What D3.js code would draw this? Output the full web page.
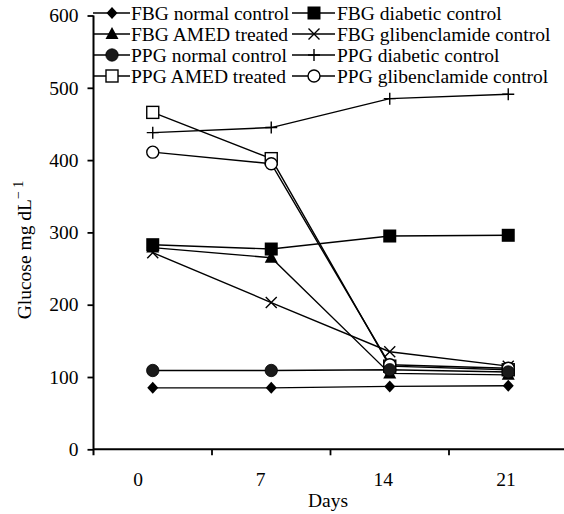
<!DOCTYPE html>
<html>
<head>
<meta charset="utf-8">
<script src="https://cdn.jsdelivr.net/npm/d3@7"></script>
<style>
  body { margin: 0; background: #fff; }
  svg text { font-family: "Liberation Serif", "Times New Roman", serif; fill: #000; }
</style>
</head>
<body>
<div id="chart"></div>
<script>
const days = ["0", "7", "14", "21"];
const yTicks = [0, 100, 200, 300, 400, 500, 600];

const fbgNormal = [85, 85, 87, 88];
const fbgDiabetic = [283, 277, 295, 296];
const fbgAmed = [279, 265, 105, 103];
const fbgGlib = [272, 203, 135, 115];
const ppgNormal = [109, 109, 110, 107];
const ppgDiabetic = [438, 445, 485, 491];
const ppgAmed = [466, 402, 115, 110];
const ppgGlib = [411, 395, 117, 112];

const seriesNames = [
  "FBG normal control", "FBG diabetic control",
  "FBG AMED treated", "FBG glibenclamide control",
  "PPG normal control", "PPG diabetic control",
  "PPG AMED treated", "PPG glibenclamide control"
];

const series = [
  { name: seriesNames[0], values: fbgNormal, marker: "diamond" },
  { name: seriesNames[1], values: fbgDiabetic, marker: "square" },
  { name: seriesNames[2], values: fbgAmed, marker: "triangle" },
  { name: seriesNames[3], values: fbgGlib, marker: "x" },
  { name: seriesNames[5], values: ppgDiabetic, marker: "plus" },
  { name: seriesNames[6], values: ppgAmed, marker: "openSquare" },
  { name: seriesNames[7], values: ppgGlib, marker: "openCircle" },
  { name: seriesNames[4], values: ppgNormal, marker: "circle" }
];

const W = 564, H = 514;
const svg = d3.select("#chart").append("svg").attr("width", W).attr("height", H);

const x = d3.scaleBand().domain(days).range([93.5, 567.5]);
const xLabel = d3.scalePoint().domain(days).range([138, 506]);
const y = d3.scaleLinear().domain([0, 600]).range([449.3, 15.5]);
const cx = d => x(d) + x.bandwidth() / 2;

// y axis
const yAxis = svg.append("g").attr("transform", `translate(${x.range()[0]},0)`)
  .call(d3.axisLeft(y).tickValues(yTicks).tickSize(6).tickSizeOuter(0).tickPadding(9));
yAxis.select(".domain").remove();
yAxis.selectAll("line").attr("stroke", "#000").attr("stroke-width", 1.8);
yAxis.selectAll("text").attr("font-size", 19.5).attr("font-family", "Liberation Serif");

svg.append("line")
  .attr("x1", x.range()[0]).attr("x2", x.range()[0])
  .attr("y1", y(600)).attr("y2", y(0) + 6)
  .attr("stroke", "#000").attr("stroke-width", 2);

// x axis
svg.append("line")
  .attr("x1", x.range()[0]).attr("x2", W)
  .attr("y1", y(0)).attr("y2", y(0))
  .attr("stroke", "#000").attr("stroke-width", 2);
svg.selectAll("line.xtick").data(days.slice(1)).enter().append("line")
  .attr("class", "xtick")
  .attr("x1", d => x(d)).attr("x2", d => x(d))
  .attr("y1", y(0)).attr("y2", y(0) + 6)
  .attr("stroke", "#000").attr("stroke-width", 1.8);
svg.selectAll("text.xlab").data(days).enter().append("text")
  .attr("class", "xlab")
  .attr("x", d => xLabel(d)).attr("y", 486)
  .attr("text-anchor", "middle").attr("font-size", 19.5)
  .text(d => d);

svg.append("text").attr("x", 328).attr("y", 507)
  .attr("text-anchor", "middle").attr("font-size", 19.5).text("Days");

const yl = svg.append("text")
  .attr("transform", "translate(31,250) rotate(-90)")
  .attr("text-anchor", "middle").attr("font-size", 19.5);
yl.append("tspan").text("Glucose mg dL");
yl.append("tspan").attr("dy", -8).attr("font-size", 14).text("\u2212\u00a01");

// markers
function drawMarker(g, type) {
  const sw = 1.4;
  if (type === "diamond") {
    g.append("path").attr("d", "M0,-6L5.5,0L0,6L-5.5,0Z").attr("fill", "#000");
  } else if (type === "square") {
    g.append("rect").attr("x", -6.5).attr("y", -6.5).attr("width", 13).attr("height", 13).attr("fill", "#000");
  } else if (type === "triangle") {
    g.append("path").attr("d", "M0,-7L6.5,5L-6.5,5Z").attr("fill", "#000");
  } else if (type === "x") {
    g.append("path").attr("d", "M-5.5,-5.5L5.5,5.5M-5.5,5.5L5.5,-5.5")
      .attr("stroke", "#000").attr("stroke-width", sw).attr("fill", "none");
  } else if (type === "plus") {
    g.append("path").attr("d", "M-6,0L6,0M0,-6L0,6")
      .attr("stroke", "#000").attr("stroke-width", sw).attr("fill", "none");
  } else if (type === "openSquare") {
    g.append("rect").attr("x", -6).attr("y", -6).attr("width", 12).attr("height", 12)
      .attr("fill", "#fff").attr("stroke", "#000").attr("stroke-width", sw);
  } else if (type === "openCircle") {
    g.append("circle").attr("r", 6)
      .attr("fill", "#fff").attr("stroke", "#000").attr("stroke-width", sw);
  } else if (type === "circle") {
    g.append("circle").attr("r", 6.2).attr("fill", "#1a1a1a").attr("stroke", "#000").attr("stroke-width", 0.8);
  }
}

const line = d3.line().x((v, i) => cx(days[i])).y(v => y(v));

series.forEach(s => {
  svg.append("path").attr("d", line(s.values))
    .attr("fill", "none").attr("stroke", "#000").attr("stroke-width", 1.4);
});
series.forEach(s => {
  s.values.forEach((v, i) => {
    const g = svg.append("g").attr("transform", `translate(${cx(days[i])},${y(v)})`);
    drawMarker(g, s.marker);
  });
});

// legend
const legendItems = [
  { name: seriesNames[0], marker: "diamond", col: 0, row: 0 },
  { name: seriesNames[1], marker: "square", col: 1, row: 0 },
  { name: seriesNames[2], marker: "triangle", col: 0, row: 1 },
  { name: seriesNames[3], marker: "x", col: 1, row: 1 },
  { name: seriesNames[4], marker: "circle", col: 0, row: 2 },
  { name: seriesNames[5], marker: "plus", col: 1, row: 2 },
  { name: seriesNames[6], marker: "openSquare", col: 0, row: 3 },
  { name: seriesNames[7], marker: "openCircle", col: 1, row: 3 }
];
const colX = [{ x0: 93, x1: 130, m: 112, t: 131 }, { x0: 292, x1: 335, m: 314, t: 337 }];
legendItems.forEach(it => {
  const c = colX[it.col];
  const ly = 13 + it.row * 21;
  svg.append("line").attr("x1", c.x0).attr("x2", c.x1).attr("y1", ly).attr("y2", ly)
    .attr("stroke", "#000").attr("stroke-width", 1.4);
  drawMarker(svg.append("g").attr("transform", `translate(${c.m},${ly})`), it.marker);
  svg.append("text").attr("x", c.t).attr("y", ly).attr("dy", "0.35em")
    .attr("font-size", 19.5).text(it.name);
});
</script>
</body>
</html>
